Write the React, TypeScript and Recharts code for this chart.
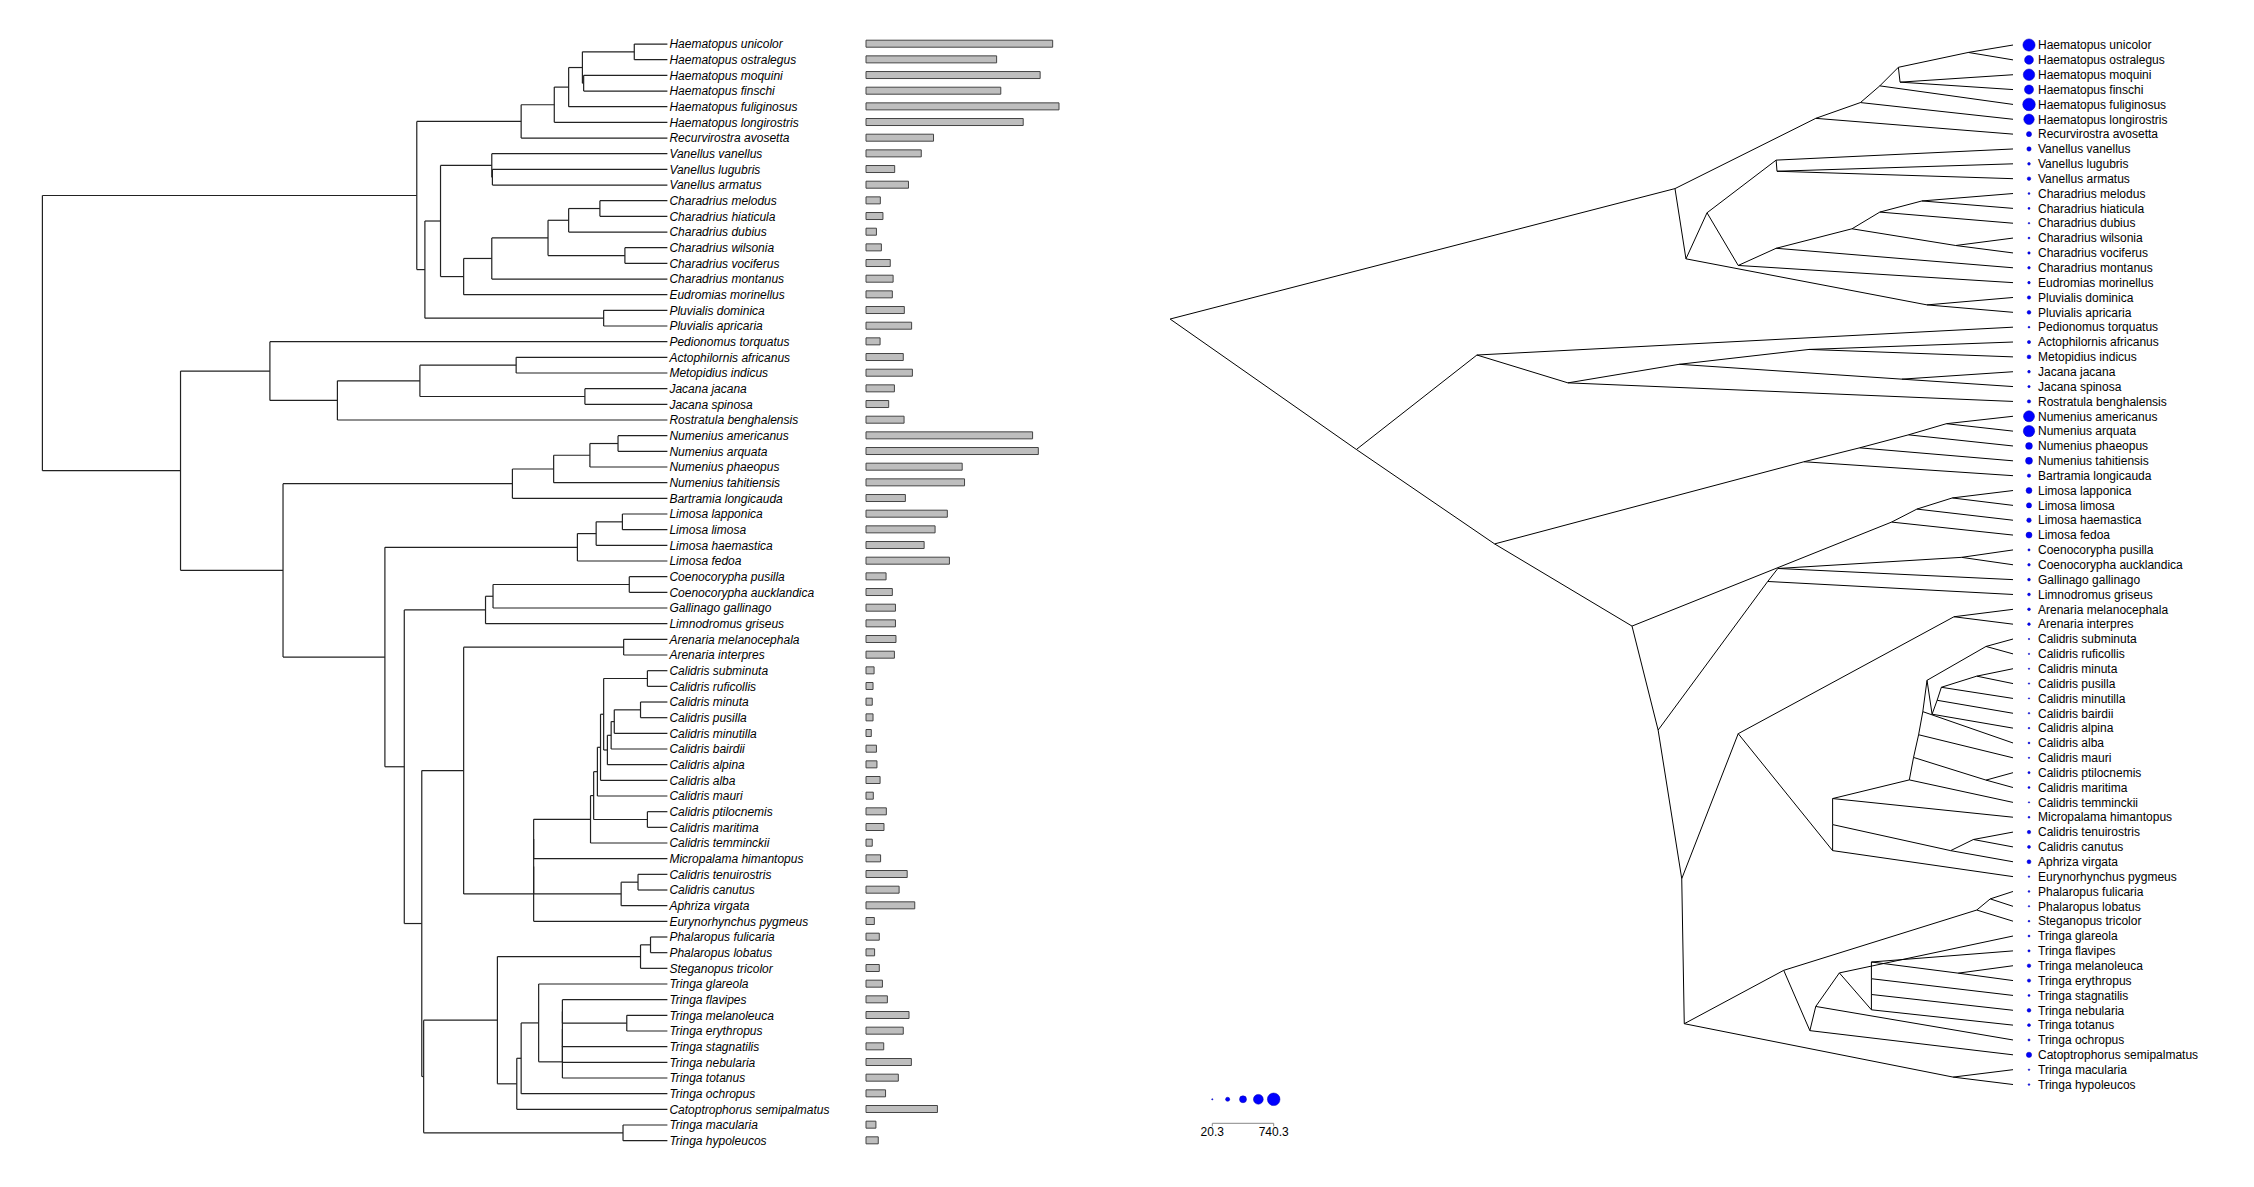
import { ScatterChart, Scatter, BarChart, Bar, XAxis, YAxis, ReferenceLine } from "recharts";

const W = 2254;
const H = 1187;
const FONT = "'Liberation Sans', Arial, Helvetica, sans-serif";

const species = [
  "Haematopus unicolor", "Haematopus ostralegus", "Haematopus moquini", "Haematopus finschi",
  "Haematopus fuliginosus", "Haematopus longirostris", "Recurvirostra avosetta", "Vanellus vanellus",
  "Vanellus lugubris", "Vanellus armatus", "Charadrius melodus", "Charadrius hiaticula",
  "Charadrius dubius", "Charadrius wilsonia", "Charadrius vociferus", "Charadrius montanus",
  "Eudromias morinellus", "Pluvialis dominica", "Pluvialis apricaria", "Pedionomus torquatus",
  "Actophilornis africanus", "Metopidius indicus", "Jacana jacana", "Jacana spinosa",
  "Rostratula benghalensis", "Numenius americanus", "Numenius arquata", "Numenius phaeopus",
  "Numenius tahitiensis", "Bartramia longicauda", "Limosa lapponica", "Limosa limosa",
  "Limosa haemastica", "Limosa fedoa", "Coenocorypha pusilla", "Coenocorypha aucklandica",
  "Gallinago gallinago", "Limnodromus griseus", "Arenaria melanocephala", "Arenaria interpres",
  "Calidris subminuta", "Calidris ruficollis", "Calidris minuta", "Calidris pusilla",
  "Calidris minutilla", "Calidris bairdii", "Calidris alpina", "Calidris alba",
  "Calidris mauri", "Calidris ptilocnemis", "Calidris maritima", "Calidris temminckii",
  "Micropalama himantopus", "Calidris tenuirostris", "Calidris canutus", "Aphriza virgata",
  "Eurynorhynchus pygmeus", "Phalaropus fulicaria", "Phalaropus lobatus", "Steganopus tricolor",
  "Tringa glareola", "Tringa flavipes", "Tringa melanoleuca", "Tringa erythropus",
  "Tringa stagnatilis", "Tringa nebularia", "Tringa totanus", "Tringa ochropus",
  "Catoptrophorus semipalmatus", "Tringa macularia", "Tringa hypoleucos",
];

const bodyMass = [
  716, 501, 668, 517, 740.3, 603, 259, 212, 110, 163,
  55, 65, 40, 59, 93, 104, 101, 147, 175, 54,
  143, 178, 109, 87, 146, 639, 661, 369, 378, 151,
  312, 265, 223, 320, 77, 101, 113, 113, 115, 109,
  31, 27, 24, 27, 20.3, 40, 42, 54, 28, 78,
  69, 24, 56, 158, 127, 187, 32, 51, 33, 51,
  63, 82, 165, 143, 68, 174, 124, 75, 274, 38, 47,
];

const legendValues = [20.3, 200.3, 380.3, 560.3, 740.3];

// tree clades: tips are row numbers, the number after ")" is the node depth (root 0, tips 100)
const haematopus = "(((((1,2)94.7,(3,4)86.6)86.4,5)84.2,6)81.9,7)76.6";
const plovers = "(((8,(9,10)72)71.9,(((((11,12)89.2,13)84.2,(14,15)93.2)80.9,16)71.9,17)67.4)63.7,(18,19)89.8)61.2";
const jacanas = "(20,(((21,22)75.8,(23,24)86.8)60.4,25)47.2)36.4";
const curlews = "((((26,27)92.1,28)87.6,29)81.8,30)75.2";
const godwits = "(((31,32)92.8,33)88.6,34)85.6";
const snipes = "(((35,36)93.9,37)72.1,38)70.9";
const calidris = "((((((41,42)96.8,((((43,44)95.7,45)91.5,46)91,47)90.4)89.8,48)89.3,49)88.8,(50,51)96.8)88.2,52)87.7";
const sandpipers = `((39,40)93,(((${calidris},53)78.6,((54,55)95.3,56)92.6)78.6,57)78.6)67.4`;
const tringa = "((((58,59)97.3,60)95.7,(((61,((((62,(63,64)93.5)83.2,65)83.2,66)83.2,67)83.2)79.4,68)76.6,69)75.9)72.8,(70,71)92.9)61";

const charadrii = `(${haematopus},${plovers})59.9`;
const scolopaci = `(${curlews},(${godwits},(${snipes},(${sandpipers},${tringa})60.7)57.9)54.8)38.5`;
const treeText = `(${charadrii},(${jacanas},${scolopaci})22.1)0`;

type Node = { depth: number; y: number; kids: Node[] };
type Pt = { x: number; y: number };

function parseTree(s: string): Node {
  let i = 0;
  const num = () => {
    const m = /^[\d.]+/.exec(s.slice(i))!;
    i += m[0].length;
    return parseFloat(m[0]);
  };
  const read = (): Node => {
    if (s[i] === "(") {
      i++;
      const kids = [read()];
      while (s[i] === ",") {
        i++;
        kids.push(read());
      }
      i++;
      const depth = num();
      return { depth, kids, y: (kids[0].y + kids[kids.length - 1].y) / 2 };
    }
    const tip = num();
    return { depth: 100, kids: [], y: tip };
  };
  return read();
}

function phylogram(n: Node, out: Pt[][] = []): Pt[][] {
  if (!n.kids.length) return out;
  out.push([{ x: n.depth, y: n.kids[0].y }, { x: n.depth, y: n.kids[n.kids.length - 1].y }]);
  n.kids.forEach((k) => {
    out.push([{ x: n.depth, y: k.y }, { x: k.depth, y: k.y }]);
    phylogram(k, out);
  });
  return out;
}

function cladogram(n: Node, out: Pt[][] = []): Pt[][] {
  n.kids.forEach((k) => {
    out.push([{ x: n.depth, y: n.y }, { x: k.depth, y: k.y }]);
    cladogram(k, out);
  });
  return out;
}

const tree = parseTree(treeText);
const leftSegs = phylogram(tree);
const rightSegs = cladogram(tree);

const rows = species.map((name, i) => ({ name, row: i + 1, mass: bodyMass[i], depth: 100, col: 0.5 }));
const rowTicks = rows.map((r) => r.row);
const massMax = Math.max(...legendValues);
const legendRows = legendValues.map((v) => ({ v, lane: 0.5 }));

const dotRadius = (v: number) => 0.5 + (5.8 * v) / massMax;

const Dot = (p: any) => (
  <circle cx={p.cx} cy={p.cy} r={dotRadius(p.payload.mass ?? p.payload.v)} fill="#0000ff" stroke="#0000b0" strokeWidth={0.5} />
);

const layer = { position: "absolute" as const, left: 0, top: 0 };

export default function App() {
  return (
    <div style={{ position: "absolute", left: 0, top: 0, width: W, height: H, background: "#fff", overflow: "hidden" }}>
      {/* left: phylogram with italic tip labels */}
      <div style={layer}>
        <ScatterChart width={W} height={H} margin={{ top: 36.2, bottom: 38.5, left: 42.4, right: W - 667.4 - 200 }}>
          <XAxis type="number" dataKey="depth" domain={[0, 100]} hide />
          <YAxis
            type="number"
            dataKey="row"
            domain={[0.5, 71.5]}
            reversed
            orientation="right"
            width={200}
            ticks={rowTicks}
            interval={0}
            tickFormatter={(v: number) => species[v - 1]}
            axisLine={false}
            tickLine={false}
            tickSize={0}
            tickMargin={2}
            tick={{ fontSize: 12, fontStyle: "italic", fill: "#000", fontFamily: FONT }}
          />
          <Scatter data={rows} shape={() => <g />} isAnimationActive={false} />
          {leftSegs.map((s, i) => (
            <ReferenceLine key={i} segment={s} stroke="#222" strokeWidth={1.2} ifOverflow="visible" />
          ))}
        </ScatterChart>
      </div>

      {/* bars */}
      <div style={layer}>
        <BarChart
          layout="vertical"
          width={W}
          height={H}
          data={rows}
          margin={{ top: 36.2, bottom: 38.5, left: 866, right: W - 1059 }}
          barSize={7}
        >
          <XAxis type="number" domain={[0, massMax]} hide />
          <YAxis type="category" dataKey="name" hide />
          <Bar dataKey="mass" fill="#bebebe" stroke="#444" strokeWidth={1} isAnimationActive={false} />
        </BarChart>
      </div>

      {/* right: slanted cladogram */}
      <div style={layer}>
        <ScatterChart width={W} height={H} margin={{ top: 37.6, bottom: H - 1091.95, left: 1170.1, right: W - 2013 }}>
          <XAxis type="number" dataKey="depth" domain={[0, 100]} hide />
          <YAxis type="number" dataKey="row" domain={[0.5, 71.5]} reversed hide />
          <Scatter data={rows} shape={() => <g />} isAnimationActive={false} />
          {rightSegs.map((s, i) => (
            <ReferenceLine key={i} segment={s} stroke="#000" strokeWidth={1} ifOverflow="visible" />
          ))}
        </ScatterChart>
      </div>

      {/* dots and plain labels */}
      <div style={layer}>
        <ScatterChart width={W} height={H} margin={{ top: 37.6, bottom: H - 1091.95, left: 2022, right: W - 2036 - 210 }}>
          <XAxis type="number" dataKey="col" domain={[0, 1]} hide />
          <YAxis
            type="number"
            dataKey="row"
            domain={[0.5, 71.5]}
            reversed
            orientation="right"
            width={210}
            ticks={rowTicks}
            interval={0}
            tickFormatter={(v: number) => species[v - 1]}
            axisLine={false}
            tickLine={false}
            tickSize={0}
            tickMargin={2}
            tick={{ fontSize: 12, fill: "#000", fontFamily: FONT }}
          />
          <Scatter data={rows} shape={Dot} isAnimationActive={false} />
        </ScatterChart>
      </div>

      {/* size legend */}
      <div style={layer}>
        <ScatterChart width={W} height={H} margin={{ top: 1075.3, bottom: H - 1123.3 - 30, left: 1212.3, right: W - 1273.7 }}>
          <XAxis
            type="number"
            dataKey="v"
            domain={[legendValues[0], massMax]}
            ticks={[legendValues[0], massMax]}
            interval={0}
            height={30}
            tickFormatter={(v: number) => v.toFixed(1)}
            stroke="#888"
            tickSize={3}
            tickMargin={1}
            tick={{ fontSize: 12, fill: "#000", fontFamily: FONT }}
          />
          <YAxis type="number" dataKey="lane" domain={[0, 1]} hide />
          <Scatter data={legendRows} shape={Dot} isAnimationActive={false} />
        </ScatterChart>
      </div>
    </div>
  );
}
